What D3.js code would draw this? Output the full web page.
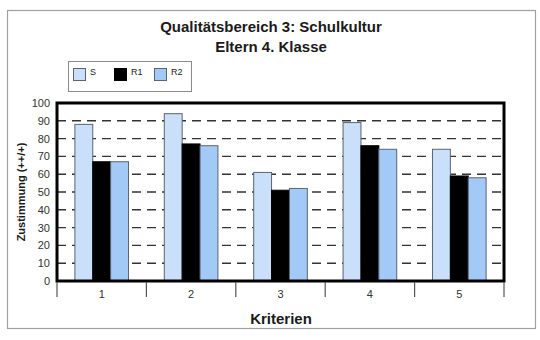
<!DOCTYPE html>
<html>
<head>
<meta charset="utf-8">
<script src="https://cdn.jsdelivr.net/npm/d3@7/dist/d3.min.js"></script>
<style>
  html, body { margin: 0; padding: 0; background: #fff; }
  svg { display: block; font-family: "Liberation Sans", Arial, sans-serif; }
</style>
</head>
<body>
<svg id="chart" width="540" height="340"></svg>
<script>
const categories = ["1", "2", "3", "4", "5"];
const seriesNames = ["S", "R1", "R2"];
const valuesS  = [88, 94, 61, 89, 74];
const valuesR1 = [67, 77, 51, 76, 59];
const valuesR2 = [67, 76, 52, 74, 58];
const yTicks = [0, 10, 20, 30, 40, 50, 60, 70, 80, 90, 100];
const gridValues = [10, 20, 30, 40, 50, 60, 70, 80, 90];
const titleLines = ["Qualitätsbereich 3: Schulkultur", "Eltern 4. Klasse"];
const yTitle = "Zustimmung (++/+)";
const xTitle = "Kriterien";

const colors = { S: "#c9dffa", R1: "#000000", R2: "#a3c9f7" };
const seriesValues = { S: valuesS, R1: valuesR1, R2: valuesR2 };

const svg = d3.select("#chart");
const plot = { left: 57, right: 504, top: 103, bottom: 281 };

// outer frame
svg.append("rect").attr("x", 7.5).attr("y", 10.5).attr("width", 528).attr("height", 318)
  .attr("fill", "#fff").attr("stroke", "#a0a0a0").attr("stroke-width", 1.2);

// title
svg.append("text").attr("x", 271).attr("y", 32).attr("text-anchor", "middle")
  .attr("font-size", 15).attr("font-weight", "bold").attr("fill", "#1a1a1a").text(titleLines[0]);
svg.append("text").attr("x", 271).attr("y", 52).attr("text-anchor", "middle")
  .attr("font-size", 15).attr("font-weight", "bold").attr("fill", "#1a1a1a").text(titleLines[1]);

// scales
const x0 = d3.scaleBand().domain(categories).range([plot.left, plot.right]).paddingInner(0).paddingOuter(0);
const bw = x0.bandwidth();
const x1 = d3.scaleBand().domain(seriesNames).range([bw * 0.2, bw * 0.8]).padding(0);
const y = d3.scaleLinear().domain([0, 100]).range([plot.bottom, plot.top]);

// grid
svg.append("g").selectAll("line").data(gridValues).join("line")
  .attr("x1", plot.left).attr("x2", plot.right)
  .attr("y1", d => y(d)).attr("y2", d => y(d))
  .attr("stroke", "#333").attr("stroke-width", 1.4).attr("stroke-dasharray", "9,6");

// bars
const rows = categories.map((c, i) => ({ c, vals: seriesNames.map(s => ({ s, v: seriesValues[s][i] })) }));
svg.append("g").selectAll("g").data(rows).join("g")
  .attr("transform", d => `translate(${x0(d.c)},0)`)
  .selectAll("rect").data(d => d.vals).join("rect")
  .attr("x", d => x1(d.s)).attr("width", x1.bandwidth())
  .attr("y", d => y(d.v)).attr("height", d => y(0) - y(d.v))
  .attr("fill", d => colors[d.s])
  .attr("stroke", d => d.s === "R1" ? "#000" : "#5a6470").attr("stroke-width", 1);

// plot border
svg.append("rect").attr("x", plot.left).attr("y", plot.top)
  .attr("width", plot.right - plot.left).attr("height", plot.bottom - plot.top)
  .attr("fill", "none").attr("stroke", "#000").attr("stroke-width", 3);

// y axis labels
const yAxis = d3.axisLeft(y).tickValues(yTicks).tickSize(0).tickPadding(7);
const gy = svg.append("g").attr("transform", `translate(${plot.left},0)`).call(yAxis);
gy.select(".domain").remove();
gy.selectAll("text").attr("font-size", 11).attr("fill", "#333")
  .attr("font-family", "Liberation Sans, Arial, sans-serif");

// x axis: ticks at category boundaries
const boundaries = categories.map(c => x0(c)).concat([plot.right]);
svg.append("g").selectAll("line").data(boundaries).join("line")
  .attr("x1", d => d).attr("x2", d => d).attr("y1", plot.bottom + 1).attr("y2", 297)
  .attr("stroke", "#555").attr("stroke-width", 1.2);
const xAxis = d3.axisBottom(x0).tickSize(0).tickPadding(9);
const gx = svg.append("g").attr("transform", `translate(0,${plot.bottom})`).call(xAxis);
gx.select(".domain").remove();
gx.selectAll("text").attr("font-size", 11).attr("fill", "#333")
  .attr("font-family", "Liberation Sans, Arial, sans-serif");

// axis titles
svg.append("text").attr("x", 281).attr("y", 324).attr("text-anchor", "middle")
  .attr("font-size", 15).attr("font-weight", "bold").attr("fill", "#1a1a1a").text(xTitle);
svg.append("text").attr("transform", `translate(25,${(plot.top + plot.bottom) / 2}) rotate(-90)`)
  .attr("text-anchor", "middle").attr("font-size", 11).attr("font-weight", "bold")
  .attr("fill", "#1a1a1a").text(yTitle);

// legend
svg.append("rect").attr("x", 68.5).attr("y", 61.5).attr("width", 123).attr("height", 30)
  .attr("fill", "#fff").attr("stroke", "#8a8a8a").attr("stroke-width", 1);
const legX = { S: 73, R1: 114, R2: 154 };
const leg = svg.append("g").selectAll("g").data(seriesNames).join("g")
  .attr("transform", d => `translate(${legX[d]},68)`);
leg.append("rect").attr("x", 0.5).attr("y", 0.5).attr("width", 12).attr("height", 12)
  .attr("fill", d => colors[d]).attr("stroke", d => d === "R1" ? "#000" : "#5a6470");
leg.append("text").attr("x", 17).attr("y", 7).attr("font-size", 9).attr("fill", "#222").text(d => d);
</script>
</body>
</html>
